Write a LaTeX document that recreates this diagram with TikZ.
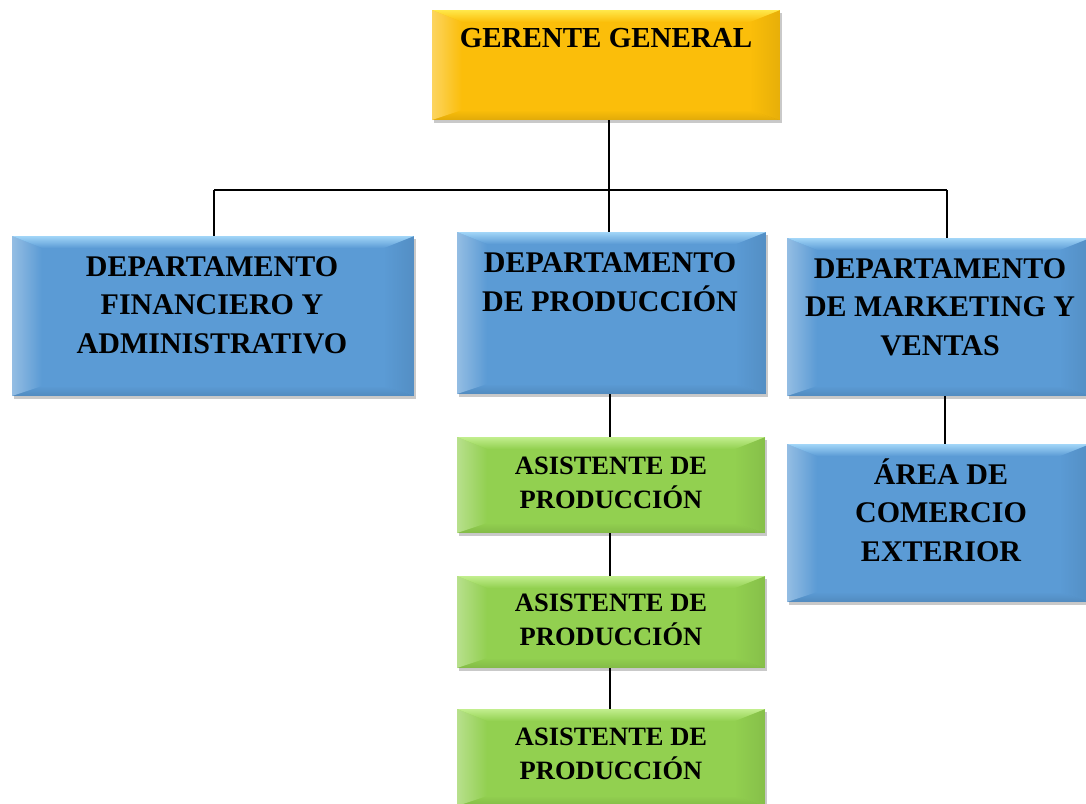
\documentclass[tikz,border=0pt]{standalone}
\usepackage{fontspec}
\setmainfont{Liberation Serif}
\usetikzlibrary{shadows,calc}
\definecolor{goldF}{HTML}{FBBE0A}
\definecolor{goldT}{HTML}{FFE84A}
\definecolor{blueF}{HTML}{5B9BD5}
\definecolor{blueT}{HTML}{A2D6F8}
\definecolor{greenF}{HTML}{92D050}
\definecolor{greenT}{HTML}{C2EE8E}
\tikzset{
  bev/.style 2 args={draw=none, fill=#1, inner sep=0pt,
    drop shadow={shadow xshift=1.5pt, shadow yshift=-3pt, opacity=0.3, fill=black!70},
    path picture={
      \coordinate (NW) at (path picture bounding box.north west);
      \coordinate (NE) at (path picture bounding box.north east);
      \coordinate (SW) at (path picture bounding box.south west);
      \coordinate (SE) at (path picture bounding box.south east);
      \shade[left color=white, right color=#1, opacity=0.35] (NW) -- ($(NW)+(30pt,-12pt)$) -- ($(SW)+(30pt,10pt)$) -- (SW) -- cycle;
      \shade[left color=#1, right color=black, opacity=0.08] (NE) -- ($(NE)+(-30pt,-12pt)$) -- ($(SE)+(-30pt,10pt)$) -- (SE) -- cycle;
      \shade[top color=#1, bottom color=black, opacity=0.1] (SW) -- ($(SW)+(30pt,10pt)$) -- ($(SE)+(-30pt,10pt)$) -- (SE) -- cycle;
      \shade[top color=#2, bottom color=#1] (NW) -- (NE) -- ($(NE)+(-30pt,-12pt)$) -- ($(NW)+(30pt,-12pt)$) -- cycle;
    }},
  big/.style={font=\fontsize{30}{38.5}\selectfont\bfseries, align=center, inner sep=0pt},
  small/.style={font=\fontsize{26.5}{34}\selectfont\bfseries, align=center, inner sep=0pt},
  conn/.style={line width=1.8pt, black}
}
\begin{document}
\begin{tikzpicture}[x=1pt,y=-1pt]
\useasboundingbox (0,0) rectangle (1086,803);
% boxes
\node[bev={goldF}{goldT}, minimum width=348pt, minimum height=110pt] (gg) at (606,65) {};
\node[bev={blueF}{blueT}, minimum width=402pt, minimum height=160pt] (fin) at (213,316) {};
\node[bev={blueF}{blueT}, minimum width=309pt, minimum height=162pt] (prod) at (611.5,313) {};
\node[bev={blueF}{blueT}, minimum width=303pt, minimum height=158pt] (mkt) at (938.5,317) {};
\node[bev={greenF}{greenT}, minimum width=308pt, minimum height=96pt] (a1) at (611,485) {};
\node[bev={greenF}{greenT}, minimum width=308pt, minimum height=92pt] (a2) at (611,622) {};
\node[bev={greenF}{greenT}, minimum width=308pt, minimum height=97pt] (a3) at (611,757.5) {};
\node[bev={blueF}{blueT}, minimum width=303pt, minimum height=158pt] (area) at (938.5,523) {};
% connectors
\coordinate (j) at (609,190);
\coordinate (hl) at (214,190);
\coordinate (hr) at (947,190);
\draw[conn] (j |- gg.south) -- (j);
\draw[conn] (hl) -- (hr);
\draw[conn] (hl) -- (hl |- fin.north);
\draw[conn] (j) -- (j |- prod.north);
\draw[conn] (hr) -- (hr |- mkt.north);
\coordinate (pc) at (610,0);
\draw[conn] (pc |- prod.south) -- (pc |- a1.north);
\draw[conn] (pc |- a1.south) -- (pc |- a2.north);
\draw[conn] (pc |- a2.south) -- (pc |- a3.north);
\coordinate (mc) at (945,0);
\draw[conn] (mc |- mkt.south) -- (mc |- area.north);
% texts
\node[big, font=\fontsize{29}{38.5}\selectfont\bfseries, anchor=base] (tgg) at (606,47) {GERENTE GENERAL};
\node[big] (tfin) at (212,305) {DEPARTAMENTO\\FINANCIERO Y\\ADMINISTRATIVO};
\node[big] (tprod) at (610,282) {DEPARTAMENTO\\DE PRODUCCIÓN};
\node[big] (tmkt) at (940,307) {DEPARTAMENTO\\DE MARKETING Y\\VENTAS};
\node[big] (tarea) at (941,510) {ÁREA DE\\COMERCIO\\EXTERIOR};
\node[small] (ta1) at (611,483) {ASISTENTE DE\\PRODUCCIÓN};
\node[small] (ta2) at (611,620) {ASISTENTE DE\\PRODUCCIÓN};
\node[small] (ta3) at (611,754) {ASISTENTE DE\\PRODUCCIÓN};
\end{tikzpicture}
\end{document}
